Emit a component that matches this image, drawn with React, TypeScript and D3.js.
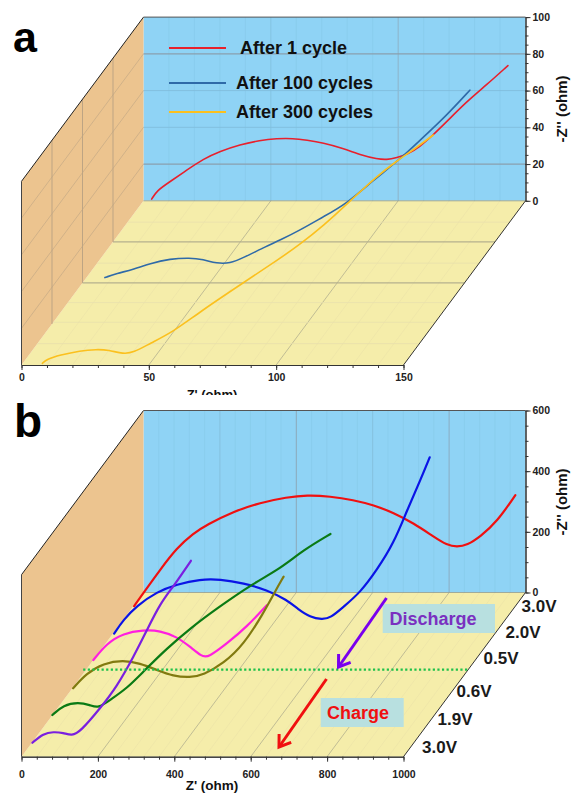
import React, { useEffect, useRef } from 'react';
import * as d3 from 'd3';

type Pt = [number, number];

// panel a: [Z', -Z'']
const cycle1: Pt[] = [[3.2, 0.9], [5.2, 5.5], [10.4, 10.4], [17, 16.7], [23.4, 22.7], [30, 26.9], [37.9, 30.6], [45.7, 32.9], [52.3, 33.9], [58.7, 34], [64.1, 33], [70.5, 31.6], [78.1, 28.7], [86.2, 24.5], [91.6, 22.8], [95.5, 22.3], [99.4, 23.4], [103.8, 25.4], [108.5, 29.4], [113.7, 35.8], [119, 43], [126.9, 54], [134.7, 63.1], [143.1, 73.6]];
const cycle100: Pt[] = [[8.8, 2.9], [13.4, 5.1], [19.8, 7.3], [26.5, 10.6], [34.4, 13.1], [42.2, 13.7], [47.3, 12.8], [52.7, 10.6], [57.9, 10.6], [63, 13.6], [72.3, 20], [77.5, 23.2], [85.4, 28.7], [94.4, 35.9], [103.7, 43.1], [114.1, 55.8], [123.4, 65.8], [132.5, 77.6], [143, 91.2], [152.1, 104.9]];
const cycle300: Pt[] = [[8.2, 0.9], [9.9, 3.1], [15.1, 5.4], [23, 7.8], [29.5, 8.5], [34.1, 8.2], [40, 6], [43.9, 6.7], [50.5, 11.8], [59.6, 18.1], [70.1, 29], [87.1, 44.8], [101.5, 58], [109.3, 65.7], [118.5, 75.7], [129, 89.2], [139.5, 102.8], [147.3, 111], [153.8, 117.1], [161.7, 125.2]];
const cycleDepths = [1, 0.5, 0];
const cycleColors = ['#e8202c', '#2f6aa8', '#fbc01e'];
const cycleLabels = ['After 1 cycle', 'After 100 cycles', 'After 300 cycles'];

// panel b: [Z', -Z''] for each voltage step
const v30back: Pt[] = [[2, 0], [26, 43], [70, 120], [113, 191], [157, 240], [192, 268], [262, 312], [332, 341], [402, 359], [454, 366], [515, 362], [576, 350], [629, 333], [681, 308], [734, 273], [786, 229], [821, 201], [847, 195], [874, 201], [908, 229], [952, 278], [1000, 366]];
const v20: Pt[] = [[3, 0], [27, 45], [62, 91], [115, 138], [167, 162], [228, 179], [280, 179], [342, 166], [403, 144], [455, 111], [485, 80], [516, 54], [547, 46], [569, 51], [604, 89], [647, 135], [691, 210], [735, 298], [770, 407], [805, 507], [829, 581]];
const v05: Pt[] = [[2, 3], [37, 58], [80, 91], [133, 102], [177, 100], [220, 80], [255, 47], [286, 14], [303, 12], [352, 58], [404, 113], [456, 184]];
const v06: Pt[] = [[2, 0], [37, 49], [81, 82], [133, 93], [177, 82], [221, 60], [264, 40], [308, 35], [343, 44], [396, 82], [448, 143], [500, 247], [531, 320], [553, 368]];
const v19: Pt[] = [[1, 2], [30, 35], [69, 44], [100, 35], [121, 24], [152, 52], [196, 90], [239, 145], [301, 222], [362, 288], [432, 354], [528, 437], [598, 485], [658, 546], [729, 599]];
const v30front: Pt[] = [[2, 1], [31, 32], [57, 37], [83, 34], [105, 24], [127, 37], [179, 114], [223, 186], [267, 285], [302, 373], [337, 461], [371, 516], [417, 601]];
const voltDepths = [0.917, 0.75, 0.583, 0.417, 0.25, 0.083];
const voltColors = ['#f01010', '#0a14e6', '#ff1fe0', '#817a10', '#0a7a14', '#7a1fe0'];
const voltLabels = ['3.0V', '2.0V', '0.5V', '0.6V', '1.9V', '3.0V'];

const FONT = '"Liberation Sans", Arial, sans-serif';

const App = () => {
  const svgRef = useRef<SVGSVGElement | null>(null);

  useEffect(() => {
    const svg = d3.select(svgRef.current);
    svg.selectAll('*').remove();
    svg.style('font-family', FONT);

    // draws the box shared by both panels, returns a projector for its curves
    const drawPanel = (cfg: any) => {
      const g = svg.append('g');
      const x = d3.scaleLinear().domain(cfg.xDomain).range([21.5, 403.5]);
      const z = d3.scaleLinear().domain(cfg.zDomain).range([cfg.yFloor, cfg.yTop]);
      const dx = d3.scaleLinear().domain([0, 1]).range([0, 122]);
      const dy = d3.scaleLinear().domain([0, 1]).range([0, -164.2]);
      const yF = cfg.yFront;
      const project = (vx: number, vz: number, d: number): Pt => [
        x(vx) + dx(d),
        yF + dy(d) - (cfg.yFloor - z(vz)),
      ];
      const poly = (pts: Pt[], fill: string) =>
        g.append('polygon').attr('points', pts.map(p => p.join(',')).join(' ')).attr('fill', fill);

      const [x0, x1] = cfg.xDomain;
      const [z0, z1] = cfg.zDomain;
      poly([project(x0, z0, 1), project(x1, z0, 1), project(x1, z1, 1), project(x0, z1, 1)], '#8fd3f5');
      poly([project(x0, z0, 0), project(x1, z0, 0), project(x1, z0, 1), project(x0, z0, 1)], '#f5edaa');
      poly([project(x0, z0, 0), project(x0, z0, 1), project(x0, z1, 1), project(x0, z1, 0)], '#ecc48f');

      const seg = (a: Pt, b: Pt, color: string, w: number) =>
        g.append('line')
          .attr('x1', a[0]).attr('y1', a[1]).attr('x2', b[0]).attr('y2', b[1])
          .attr('stroke', color).attr('stroke-width', w);

      // grid
      (cfg.xMinor || []).forEach((v: number) => {
        seg(project(v, z0, 1), project(v, z1, 1), '#88cbeb', 0.8);
        seg(project(v, z0, 0), project(v, z0, 1), '#ede5a8', 0.8);
      });
      cfg.xGrid.forEach((v: number, i: number) => {
        seg(project(v, z0, 1), project(v, z1, 1), cfg.xGridColors[i], 1);
        seg(project(v, z0, 0), project(v, z0, 1), '#b3b08f', 0.8);
      });
      (cfg.zGrid || []).forEach((v: number, i: number) => {
        seg(project(x0, v, 1), project(x1, v, 1), i % 3 === 0 ? '#8a9fae' : '#80bddc', i % 3 === 0 ? 1.2 : 0.9);
        seg(project(x0, v, 0), project(x0, v, 1), '#c4a985', 0.7);
      });
      (cfg.depthGridMinor || []).forEach((d: number) => {
        seg(project(x0, z0, d), project(x1, z0, d), '#e8e0ac', 0.8);
      });
      (cfg.depthGrid || []).forEach((d: number) => {
        seg(project(x0, z0, d), project(x1, z0, d), '#b5b08e', 1.2);
      });
      (cfg.wallGrid || []).forEach((d: number) => {
        seg(project(x0, z0, d), project(x0, z1, d), '#bda483', 1);
      });

      // box edges
      seg(project(x0, z1, 0), project(x0, z1, 1), '#222', 1);
      seg(project(x0, z1, 1), project(x1, z1, 1), '#555', 1);
      seg(project(x1, z0, 0), project(x1, z0, 1), '#333', 1);
      seg(project(x0, z0, 0), project(x0, z1, 0), '#444', 1);
      seg(project(x0, z0, 1), project(x1, z0, 1), '#8f9a8e', 0.8);

      // axes, labels come from a second call so minors stay unlabelled
      const axisStyle = (a: any) => {
        a.select('.domain').attr('stroke', '#333');
        a.selectAll('.tick line').attr('stroke', '#333');
        a.selectAll('text')
          .attr('fill', '#222')
          .style('font-family', FONT)
          .style('font-weight', 'bold')
          .style('font-size', '10.5px');
      };
      const fmt = d3.format('d') as any;
      const bottom = g.append('g').attr('transform', `translate(0,${yF})`);
      bottom.call(d3.axisBottom(x).tickValues(cfg.xMinorTicks).tickSize(3).tickSizeOuter(0).tickFormat(() => '') as any);
      const bottomMajor = g.append('g').attr('transform', `translate(0,${yF})`);
      bottomMajor.call(d3.axisBottom(x).tickValues(cfg.xTicks).tickSize(5).tickSizeOuter(0).tickPadding(cfg.xPad).tickFormat(fmt) as any);
      axisStyle(bottom);
      axisStyle(bottomMajor);

      const zAxis = d3.scaleLinear().domain(cfg.zDomain).range([yF + dy(1), yF + dy(1) - (cfg.yFloor - cfg.yTop)]);
      const rightX = x(x1) + dx(1);
      const right = g.append('g').attr('transform', `translate(${rightX},0)`);
      right.call(d3.axisRight(zAxis).tickValues(cfg.zMinorTicks).tickSize(3).tickSizeOuter(0).tickFormat(() => '') as any);
      const rightMajor = g.append('g').attr('transform', `translate(${rightX},0)`);
      rightMajor.call(d3.axisRight(zAxis).tickValues(cfg.zTicks).tickSize(5).tickSizeOuter(0).tickPadding(2).tickFormat(fmt) as any);
      axisStyle(right);
      axisStyle(rightMajor);

      // curves
      const line = d3.line<Pt>().curve(d3.curveBasis);
      cfg.series.forEach((s: Pt[], i: number) => {
        g.append('path')
          .attr('d', line(s.map(p => project(p[0], p[1], cfg.depths[i]))))
          .attr('fill', 'none')
          .attr('stroke', cfg.colors[i])
          .attr('stroke-width', cfg.curveWidth)
          .attr('stroke-linecap', 'round');
      });

      // side title
      g.append('text')
        .attr('transform', `translate(${cfg.zTitleX},${cfg.zTitleY}) rotate(-90)`)
        .attr('text-anchor', 'middle')
        .attr('font-weight', 'bold')
        .attr('font-size', 15)
        .attr('fill', '#111')
        .text("-Z'' (ohm)");

      return { g, project };
    };

    // panel a
    const a = drawPanel({
      xDomain: [0, 150], zDomain: [0, 100], yFloor: 200.7, yTop: 17, yFront: 365,
      xTicks: [0, 50, 100, 150], xMinorTicks: d3.range(0, 151, 10), xPad: 4,
      zTicks: [0, 20, 40, 60, 80, 100], zMinorTicks: d3.range(0, 101, 5),
      xGrid: [50, 100], xGridColors: ['#84c3e2', '#8cb4c9'], xMinor: [10, 20, 30, 40, 60, 70, 80, 90, 110, 120, 130, 140],
      zGrid: [20, 40, 60, 80], depthGrid: [0.5, 0.75], depthGridMinor: [0.13, 0.26, 0.38, 0.62, 0.87], wallGrid: [0.25, 0.5, 0.75],
      series: [cycle1, cycle100, cycle300], depths: cycleDepths, colors: cycleColors, curveWidth: 1.6,
      zTitleX: 567, zTitleY: 109,
    });

    // legend a
    const legendY = [48, 83, 112];
    const legendTextX = [240, 236, 236];
    const legendTextY = [54, 88.5, 118];
    cycleLabels.forEach((label, i) => {
      a.g.append('line')
        .attr('x1', 169).attr('x2', 226).attr('y1', legendY[i]).attr('y2', legendY[i])
        .attr('stroke', cycleColors[i]).attr('stroke-width', 2);
      a.g.append('text')
        .attr('x', legendTextX[i]).attr('y', legendTextY[i])
        .attr('font-weight', 'bold').attr('font-size', 18).attr('fill', '#111')
        .text(label);
    });

    // x title of a is cut by the panel below it in the source
    svg.append('clipPath').attr('id', 'cut-a').append('rect')
      .attr('x', 150).attr('y', 380).attr('width', 120).attr('height', 15);
    a.g.append('text')
      .attr('x', 212).attr('y', 399)
      .attr('clip-path', 'url(#cut-a)')
      .attr('text-anchor', 'middle').attr('font-weight', 'bold').attr('font-size', 13).attr('fill', '#111')
      .text("Z' (ohm)");

    // panel b
    const b = drawPanel({
      xDomain: [0, 1000], zDomain: [0, 600], yFloor: 592.7, yTop: 410.7, yFront: 756.7,
      xTicks: [0, 200, 400, 600, 800, 1000], xMinorTicks: d3.range(0, 1001, 40), xPad: 9,
      zTicks: [0, 200, 400, 600], zMinorTicks: d3.range(0, 601, 50),
      xGrid: [200, 400, 600, 800], xGridColors: ['#84c0de', '#8ba9ba', '#84c0de', '#8aaec3'],
      xMinor: d3.range(40, 1000, 40).filter(v => v % 200 !== 0),
      series: [v30back, v20, v05, v06, v19, v30front], depths: voltDepths, colors: voltColors, curveWidth: 2.2,
      zTitleX: 567, zTitleY: 502,
    });

    b.g.append('text')
      .attr('x', 212).attr('y', 790)
      .attr('text-anchor', 'middle').attr('font-weight', 'bold').attr('font-size', 13.5).attr('fill', '#111')
      .text("Z' (ohm)");

    // dotted divider between discharge and charge
    const dividerDepth = 0.53;
    b.g.append('line')
      .attr('x1', b.project(0, 0, dividerDepth)[0] - 3).attr('x2', b.project(1000, 0, dividerDepth)[0])
      .attr('y1', b.project(0, 0, dividerDepth)[1]).attr('y2', b.project(0, 0, dividerDepth)[1])
      .attr('stroke', '#1fc14a').attr('stroke-width', 2.2).attr('stroke-dasharray', '2.2 2.4');

    // voltage labels along the right edge
    const voltX = [521.5, 505.5, 483.5, 456.5, 437.5, 422];
    const voltY = [612, 638, 664, 697, 725, 753];
    voltLabels.forEach((label, i) => {
      b.g.append('text')
        .attr('x', voltX[i]).attr('y', voltY[i])
        .attr('font-weight', 'bold').attr('font-size', 17).attr('fill', '#1a1a1a')
        .text(label);
    });

    // annotation boxes and arrows
    const note = (bx: number, by: number, bw: number, bh: number, label: string, color: string, tx: number, ty: number) => {
      b.g.append('rect').attr('x', bx).attr('y', by).attr('width', bw).attr('height', bh).attr('fill', '#b8e0e0');
      b.g.append('text')
        .attr('x', tx).attr('y', ty)
        .attr('text-anchor', 'middle').attr('font-weight', 'bold').attr('font-size', 18).attr('fill', color)
        .text(label);
    };
    note(382.7, 604, 112.3, 29, 'Discharge', '#7a30c0', 433, 625);
    note(320.7, 698, 83, 29, 'Charge', '#f01010', 358, 719);

    const arrow = (p0: Pt, p1: Pt, color: string) => {
      const ang = Math.atan2(p1[1] - p0[1], p1[0] - p0[0]);
      const head = (off: number): Pt => [p1[0] - 13 * Math.cos(ang + off), p1[1] - 13 * Math.sin(ang + off)];
      b.g.append('path')
        .attr('d', d3.line()([p0, p1]))
        .attr('stroke', color).attr('stroke-width', 3).attr('fill', 'none');
      b.g.append('path')
        .attr('d', d3.line()([head(0.6), p1, head(-0.6)]))
        .attr('stroke', color).attr('stroke-width', 3).attr('fill', 'none');
    };
    arrow([386.5, 598], [338.5, 667], '#7a00ee');
    arrow([326.5, 679], [279, 747], '#f01010');

    // panel letters
    const letters = ['a', 'b'];
    const letterX = [13, 14];
    const letterY = [52, 437];
    const letterSize = [43, 46];
    letters.forEach((l, i) => {
      svg.append('text')
        .attr('x', letterX[i]).attr('y', letterY[i])
        .attr('font-weight', 'bold').attr('font-size', letterSize[i]).attr('fill', '#000')
        .text(l);
    });
  }, []);

  return (
    <svg
      ref={svgRef}
      width={573}
      height={794}
      style={{ position: 'absolute', left: 0, top: 0, background: '#fff' }}
    />
  );
};

export default App;
